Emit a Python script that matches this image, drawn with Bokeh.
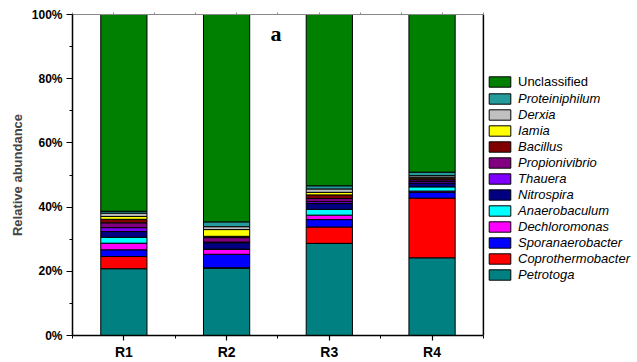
from bokeh.plotting import figure
from bokeh.models import (ColumnDataSource, FixedTicker, LinearAxis, Range1d, Legend,
                          LegendItem, PrintfTickFormatter, Label, Span)
from bokeh.embed import file_html
from bokeh.resources import INLINE

samples = ["R1", "R2", "R3", "R4"]

# relative abundance (%) per genus, stacked bottom -> top
Petrotoga = [20.8, 21.0, 28.7, 24.2]
Coprothermobacter = [3.8, 0.1, 5.1, 18.6]
Sporanaerobacter = [2.1, 4.2, 2.3, 1.8]
Dechloromonas = [2.05, 1.5, 1.4, 0.4]
Anaerobaculum = [1.85, 0.1, 1.8, 1.3]
Nitrospira = [1.8, 2.0, 1.8, 1.2]
Thauera = [1.2, 0.2, 0.6, 0.5]
Propionivibrio = [1.5, 1.4, 1.0, 0.5]
Bacillus = [1.1, 0.4, 1.1, 0.5]
Iamia = [0.9, 2.1, 0.8, 0.3]
Derxia = [1.0, 0.9, 1.05, 0.5]
Proteiniphilum = [0.6, 1.5, 1.0, 1.1]
Unclassified = [61.3, 64.6, 53.35, 49.1]

genera = ["Petrotoga", "Coprothermobacter", "Sporanaerobacter", "Dechloromonas",
          "Anaerobaculum", "Nitrospira", "Thauera", "Propionivibrio", "Bacillus",
          "Iamia", "Derxia", "Proteiniphilum", "Unclassified"]
values = [Petrotoga, Coprothermobacter, Sporanaerobacter, Dechloromonas, Anaerobaculum,
          Nitrospira, Thauera, Propionivibrio, Bacillus, Iamia, Derxia, Proteiniphilum,
          Unclassified]
colors = ["#008080", "#FF0000", "#0000FF", "#FF00FF", "#00FFFF", "#000080", "#8000FF",
          "#800080", "#800000", "#FFFF00", "#C0C0C0", "#259B9B", "#008000"]

y_ticks = [0, 20, 40, 60, 80, 100]
y_minor = [10, 30, 50, 70, 90]

xpos = [i + 1 for i in range(len(samples))]
data = {"x": xpos}
for g, v in zip(genera, values):
    data[g] = v
src = ColumnDataSource(data)

FONT = "Liberation Sans"
X0, X1 = 0.5, 4.5  # extent of the bar axes

p = figure(width=637, height=362, x_range=Range1d(X0, 6.0), y_range=Range1d(0, 100),
           output_backend="svg", toolbar_location=None,
           min_border_left=72, min_border_right=0, min_border_top=14, min_border_bottom=27)
p.outline_line_color = None
p.xgrid.visible = False
p.ygrid.visible = False
p.background_fill_color = "white"

rs = p.vbar_stack(genera, x="x", width=0.45, source=src, fill_color=colors,
                  line_color="black", line_width=1)
rmap = dict(zip(genera, rs))

# bottom axis
xa = p.xaxis[0]
xa.bounds = (X0, X1)
xa.ticker = FixedTicker(ticks=xpos, minor_ticks=[x - 0.5 for x in xpos] + [xpos[-1] + 0.5])
xa.major_label_overrides = {x: s for x, s in zip(xpos, samples)}
xa.major_tick_out = 5
xa.major_tick_in = 0
xa.minor_tick_out = 3
xa.minor_tick_in = 0
xa.axis_line_width = 1.5
xa.major_tick_line_width = 1.2
xa.major_label_standoff = 3
xa.major_label_text_font = FONT
xa.major_label_text_font_style = "bold"
xa.major_label_text_font_size = "14px"
xa.major_label_text_color = "black"

# left axis
ya = p.yaxis[0]
ya.ticker = FixedTicker(ticks=y_ticks, minor_ticks=y_minor)
ya.formatter = PrintfTickFormatter(format="%d%%")
ya.major_tick_out = 6
ya.major_tick_in = 0
ya.minor_tick_out = 3
ya.minor_tick_in = 0
ya.axis_line_width = 1.5
ya.major_label_standoff = 4
ya.major_label_text_font = FONT
ya.major_label_text_font_style = "bold"
ya.major_label_text_font_size = "12px"
ya.major_label_text_color = "black"
ya.axis_label = "Relative abundance"
ya.axis_label_text_font = FONT
ya.axis_label_text_font_style = "bold"
ya.axis_label_text_font_size = "13px"
ya.axis_label_standoff = 4

# top axis (gray line, small ticks, no labels)
ta = LinearAxis(ticker=FixedTicker(ticks=[], minor_ticks=[X0 + 0.4 * k for k in range(11)]),
                bounds=(X0, X1), minor_tick_in=0, minor_tick_out=2,
                axis_line_color="#888888", minor_tick_line_color="#888888",
                major_label_standoff=0)
p.add_layout(ta, "above")

# right border of the plot box
p.add_layout(Span(location=X1, dimension="height", line_color="black", line_width=1.5))

common = dict(glyph_width=27, glyph_height=13, label_height=15, spacing=1, padding=0,
              margin=0, border_line_color=None, background_fill_alpha=0, label_standoff=5,
              label_text_font=FONT, label_text_font_size="13px", label_text_color="black")

leg1 = Legend(items=[LegendItem(label="Unclassified", renderers=[rmap["Unclassified"]])],
              location=(414, 246), **common)
order = ["Proteiniphilum", "Derxia", "Iamia", "Bacillus", "Propionivibrio", "Thauera",
         "Nitrospira", "Anaerobaculum", "Dechloromonas", "Sporanaerobacter",
         "Coprothermobacter", "Petrotoga"]
leg2 = Legend(items=[LegendItem(label=g, renderers=[rmap[g]]) for g in order],
              location=(414, 53), label_text_font_style="italic", **common)
p.add_layout(leg1)
p.add_layout(leg2)

p.add_layout(Label(x=2.48, y=94.2, text="a", text_font="Liberation Serif",
                   text_font_style="bold", text_font_size="22px", text_align="center",
                   text_baseline="alphabetic", text_color="black"))

open("out.html", "w").write(file_html(p, INLINE))
